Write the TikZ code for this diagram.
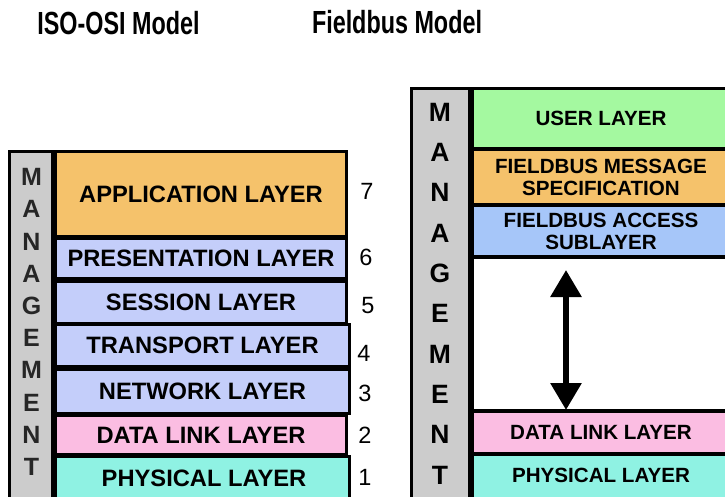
\documentclass[tikz,border=0pt]{standalone}
\usepackage{fontspec}
\setmainfont{Liberation Sans}
\usetikzlibrary{arrows.meta}
\definecolor{appc}{HTML}{F5C26B}
\definecolor{layc}{HTML}{C4CEFA}
\definecolor{pinkc}{HTML}{FBBDE2}
\definecolor{cyanc}{HTML}{8FF2E3}
\definecolor{greenc}{HTML}{A4F9A0}
\definecolor{fasc}{HTML}{A6C6F9}
\definecolor{grayc}{HTML}{CCCCCC}
\begin{document}
\begin{tikzpicture}[x=1pt,y=-1pt,
  lbox/.style={draw=black, line width=3pt, inner sep=0pt, outer sep=0pt, anchor=north west,
    font=\fontsize{23.7}{26}\selectfont\bfseries},
  rbox/.style={lbox, font=\fontsize{20.6}{22}\selectfont\bfseries, align=center},
  ltxt/.style={font=\fontsize{23.7}{26}\selectfont\bfseries, inner sep=0pt},
  rtxt/.style={font=\fontsize{20.6}{22}\selectfont\bfseries, inner sep=0pt},
  num/.style={font=\fontsize{23.5}{26}\selectfont, inner sep=0pt},
  title/.style={anchor=base, font=\fontsize{32}{36}\selectfont\bfseries, inner sep=0pt},
  bigarrow/.style={line width=6pt, {Triangle[length=27pt,width=30pt]}-{Triangle[length=27pt,width=30pt]}}
]
\useasboundingbox (0,0) rectangle (725,497);
\clip (0,0) rectangle (725,497);
\fill[white] (0,0) rectangle (725,497);

% titles
\node[title] (t1) at (118.5,35) {\scalebox{0.73}[1]{ISO-OSI Model}};
\node[title] (t2) at (397,34) {\scalebox{0.73}[1]{Fieldbus Model}};

% ISO-OSI
\node[lbox, fill=grayc, minimum width=43pt, minimum height=380pt] (mgmtL) at (9.5,151.5) {};
\node[align=center, inner sep=0pt, text=black!85, font=\fontsize{25}{32.2}\selectfont\bfseries] (mgmtLtxt) at (31.5,322)
  {M\\A\\N\\A\\G\\E\\M\\E\\N\\T};
\node[lbox, fill=appc, minimum width=291pt, minimum height=85pt] (app) at (55.5,151.5) {APPLICATION LAYER};
\node[lbox, fill=layc, minimum width=291pt, minimum height=40pt] (pres) at (55.5,238.5) {PRESENTATION LAYER};
\node[lbox, fill=layc, minimum width=291pt, minimum height=42pt] (sess) at (55.5,281.5) {SESSION LAYER};
\node[lbox, fill=layc, minimum width=294pt, minimum height=42pt] (trans) at (55.5,324.5) {TRANSPORT LAYER};
\node[lbox, fill=layc, minimum width=294pt, minimum height=44pt] (net) at (55.5,369.5) {NETWORK LAYER};
\node[lbox, fill=pinkc, minimum width=291pt, minimum height=39pt] (dl) at (55.5,415.5) {DATA LINK LAYER};
\node[lbox, fill=cyanc, minimum width=294pt, minimum height=60pt] (phys) at (55.5,456.5) {};
\node[ltxt] (phystxt) at (204,478.5) {PHYSICAL LAYER};

\node[num] (n7) at (367,191.5) {7};
\node[num] (n6) at (366,257.5) {6};
\node[num] (n5) at (368,305.5) {5};
\node[num] (n4) at (364,353.5) {4};
\node[num] (n3) at (365,393.5) {3};
\node[num] (n2) at (365,435) {2};
\node[num] (n1) at (365,477) {1};

% Fieldbus
\node[lbox, fill=grayc, minimum width=58pt, minimum height=440pt] (mgmtR) at (411.5,88.5) {};
\node[align=center, inner sep=0pt, font=\fontsize{26.5}{40.33}\selectfont\bfseries] (mgmtRtxt) at (440,293.5)
  {M\\A\\N\\A\\G\\E\\M\\E\\N\\T};
\node[rbox, fill=greenc, minimum width=258pt, minimum height=60pt] (user) at (472,88.5) {USER LAYER};
\node[rbox, fill=appc, minimum width=258pt, minimum height=54.5pt] (fms) at (472,150) {FIELDBUS MESSAGE\\SPECIFICATION};
\node[rbox, fill=fasc, minimum width=258pt, minimum height=51pt] (fas) at (472,205.5) {FIELDBUS ACCESS\\SUBLAYER};
\node[rbox, fill=white, minimum width=258pt, minimum height=152.5pt] (gap) at (472,257.5) {};
\node[rbox, fill=pinkc, minimum width=258pt, minimum height=41.5pt] (dlR) at (472,411.5) {DATA LINK LAYER};
\node[rbox, fill=cyanc, minimum width=258pt, minimum height=60pt] (physR) at (472,454) {};
\node[rtxt] (physRtxt) at (601,475.5) {PHYSICAL LAYER};

\coordinate (ax) at (566,0);
\draw[bigarrow] ([yshift=-12.5pt]gap.north -| ax) -- ([yshift=1.5pt]dlR.north -| ax);
\end{tikzpicture}
\end{document}
